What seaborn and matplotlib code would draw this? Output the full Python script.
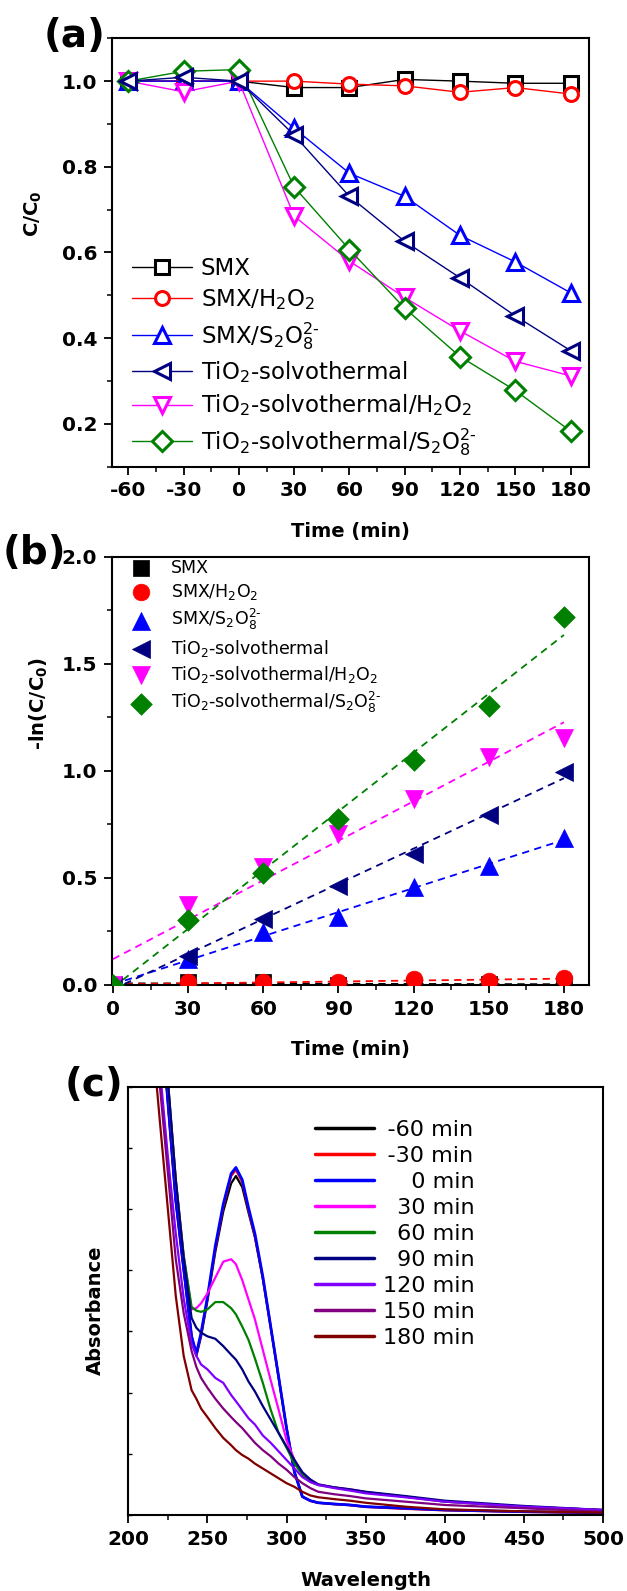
import numpy as np
import matplotlib
matplotlib.use("Agg")
import matplotlib.pyplot as plt
import seaborn as sns
from matplotlib.ticker import MultipleLocator, NullFormatter

# ---------------- panel (a): C/C0 vs time ----------------
time_a = [-60, -30, 0, 30, 60, 90, 120, 150, 180]
a_smx = [1.0, 1.0, 1.0, 0.985, 0.985, 1.004, 1.0, 0.995, 0.995]
a_smx_h2o2 = [1.0, 1.0, 1.0, 1.0, 0.993, 0.989, 0.974, 0.985, 0.970]
a_smx_s2o8 = [1.0, 1.0, 1.0, 0.89, 0.785, 0.731, 0.640, 0.578, 0.506]
a_tio2 = [1.0, 1.009, 1.0, 0.874, 0.731, 0.626, 0.541, 0.452, 0.371]
a_tio2_h2o2 = [1.0, 0.975, 1.0, 0.685, 0.58, 0.495, 0.417, 0.346, 0.312]
a_tio2_s2o8 = [1.0, 1.023, 1.027, 0.753, 0.607, 0.47, 0.357, 0.278, 0.183]

# ---------------- panel (b): -ln(C/C0) vs time ----------------
time_b = [0, 30, 60, 90, 120, 150, 180]
b_smx = [0, 0.015, 0.015, 0.0, 0.0, 0.005, 0.005]
b_smx_h2o2 = [0, 0.012, 0.012, 0.012, 0.028, 0.017, 0.033]
b_smx_s2o8 = [0, 0.12, 0.246, 0.316, 0.456, 0.558, 0.687]
b_tio2 = [0, 0.137, 0.308, 0.464, 0.612, 0.794, 0.994]
b_tio2_h2o2 = [0, 0.374, 0.55, 0.706, 0.869, 1.064, 1.154]
b_tio2_s2o8 = [0, 0.305, 0.522, 0.776, 1.053, 1.305, 1.718]

# ---------------- panel (c): UV-vis spectra ----------------
wavelength = [215, 220, 225, 230, 235, 240, 243, 246, 250, 255, 260, 265, 268, 272, 276,
              280, 285, 290, 295, 300, 305, 310, 315, 320, 330, 340, 350, 375, 400, 450, 500]
abs_m60 = [5.0, 4.19, 3.38, 2.57, 2.01, 1.46, 1.30, 1.46, 1.75, 2.15, 2.48, 2.71, 2.77, 2.68, 2.47,
           2.27, 1.93, 1.53, 1.12, 0.71, 0.35, 0.15, 0.117, 0.10, 0.09, 0.082, 0.068, 0.055, 0.041, 0.027, 0.019]
abs_m30 = [5.0, 4.19, 3.38, 2.57, 2.01, 1.46, 1.31, 1.48, 1.77, 2.18, 2.52, 2.77, 2.82, 2.72, 2.49,
           2.28, 1.94, 1.54, 1.13, 0.71, 0.35, 0.15, 0.115, 0.10, 0.088, 0.08, 0.066, 0.05, 0.038, 0.025, 0.018]
abs_0 = [5.0, 4.19, 3.38, 2.57, 2.01, 1.46, 1.32, 1.49, 1.78, 2.20, 2.54, 2.79, 2.84, 2.74, 2.51,
         2.30, 1.95, 1.54, 1.13, 0.71, 0.35, 0.15, 0.117, 0.10, 0.09, 0.082, 0.068, 0.055, 0.041, 0.027, 0.019]
abs_30 = [5.18, 4.36, 3.55, 2.74, 2.12, 1.68, 1.69, 1.73, 1.81, 1.94, 2.07, 2.09, 2.05, 1.92, 1.76,
          1.60, 1.35, 1.10, 0.86, 0.61, 0.45, 0.34, 0.29, 0.25, 0.226, 0.21, 0.188, 0.15, 0.109, 0.068, 0.041]
abs_60 = [5.18, 4.36, 3.55, 2.74, 2.12, 1.70, 1.67, 1.66, 1.68, 1.74, 1.74, 1.69, 1.64, 1.54, 1.43,
          1.28, 1.08, 0.86, 0.67, 0.55, 0.42, 0.33, 0.27, 0.245, 0.226, 0.204, 0.183, 0.15, 0.109, 0.068, 0.041]
abs_90 = [5.18, 4.36, 3.55, 2.74, 2.10, 1.61, 1.53, 1.49, 1.46, 1.44, 1.38, 1.31, 1.27, 1.19, 1.09,
          1.01, 0.89, 0.78, 0.67, 0.56, 0.45, 0.35, 0.29, 0.25, 0.226, 0.21, 0.19, 0.155, 0.117, 0.074, 0.041]
abs_120 = [4.46, 3.64, 2.93, 2.30, 1.77, 1.40, 1.30, 1.23, 1.19, 1.12, 1.08, 0.98, 0.93, 0.86, 0.79,
           0.74, 0.65, 0.59, 0.52, 0.45, 0.38, 0.31, 0.27, 0.245, 0.22, 0.20, 0.177, 0.145, 0.109, 0.068, 0.041]
abs_150 = [4.21, 3.50, 2.80, 2.09, 1.65, 1.34, 1.21, 1.12, 1.04, 0.95, 0.87, 0.80, 0.76, 0.71, 0.65,
           0.59, 0.53, 0.48, 0.42, 0.37, 0.31, 0.26, 0.22, 0.19, 0.17, 0.155, 0.136, 0.109, 0.082, 0.055, 0.027]
abs_180 = [3.94, 3.21, 2.50, 1.79, 1.30, 1.02, 0.95, 0.87, 0.80, 0.71, 0.63, 0.57, 0.53, 0.49, 0.46,
           0.42, 0.38, 0.34, 0.30, 0.26, 0.23, 0.19, 0.16, 0.145, 0.13, 0.117, 0.10, 0.068, 0.046, 0.03, 0.019]

labels_ab = ["SMX", "SMX/H$_2$O$_2$", r"SMX/S$_2$O$_8^{\text{2-}}$", "TiO$_2$-solvothermal",
             "TiO$_2$-solvothermal/H$_2$O$_2$", r"TiO$_2$-solvothermal/S$_2$O$_8^{\text{2-}}$"]
colors_ab = ["#000000", "#FF0000", "#0000FF", "#000080", "#FF00FF", "#008000"]
markers_ab = ["s", "o", "^", "<", "v", "D"]
labels_c = ["\u2009-60 min", "\u2009-30 min", "\u2007\u20070 min", "\u200730 min", "\u200760 min",
            "\u200790 min", "120 min", "150 min", "180 min"]
colors_c = ["#000000", "#FF0000", "#0000FF", "#FF00FF", "#008000", "#000080", "#8000FF", "#800080", "#800000"]

# ---------------- style ----------------
sns.set_style("ticks")
plt.rcParams.update({
    "font.family": ["DejaVu Sans"],
    "font.weight": "normal",
    "axes.labelweight": "bold",
    "axes.unicode_minus": False,
    "mathtext.default": "regular",
    "axes.linewidth": 1.5,
    "axes.edgecolor": "black",
    "text.color": "black",
    "axes.labelcolor": "black",
    "xtick.color": "black",
    "ytick.color": "black",
})

W, H = 627, 1591
fig = plt.figure(figsize=(W / 100, H / 100), dpi=100)
axA = fig.add_axes([111.7 / W, 1 - 466.7 / H, 477.3 / W, 428.4 / H])
axB = fig.add_axes([111.7 / W, 1 - 985 / H, 477.3 / W, 428.3 / H])
axC = fig.add_axes([128.3 / W, 1 - 1515 / H, 474.7 / W, 428.3 / H])

# ---------------- (a) ----------------
series_a = [a_smx, a_smx_h2o2, a_smx_s2o8, a_tio2, a_tio2_h2o2, a_tio2_s2o8]
msizes_a = [9.5, 10, 11.5, 11.5, 11.5, 10.5]
zord_a = [2, 2.1, 2.2, 2.6, 2.3, 2.4]
for vals, lab, col, mk, ms, z in zip(series_a, labels_ab, colors_ab, markers_ab, msizes_a, zord_a):
    sns.lineplot(x=time_a, y=vals, ax=axA, color=col, lw=1.0, marker=mk, markersize=ms,
                 markerfacecolor="white", markeredgecolor=col, markeredgewidth=2.2,
                 label=lab, zorder=z)
axA.set_xlim(-69, 190)
axA.set_ylim(0.1, 1.1)
axA.xaxis.set_major_locator(MultipleLocator(30))
axA.xaxis.set_minor_locator(MultipleLocator(15))
axA.yaxis.set_major_locator(MultipleLocator(0.2))
axA.yaxis.set_minor_locator(MultipleLocator(0.1))
axA.set_xlabel("Time (min)", fontsize=14, fontweight="bold")
axA.set_ylabel(r"C/C$_\mathbf{0}$", fontsize=14, fontweight="bold")
axA.xaxis.set_label_coords(0.5, -0.128)
axA.yaxis.set_label_coords(-0.142, 0.591)
hA, lA = axA.get_legend_handles_labels()
axA.legend(hA, lA, loc="upper left", bbox_to_anchor=(0.0425, 0.49), frameon=False,
           prop={"size": 16.5, "weight": "normal"}, handlelength=2.6, handletextpad=0.4,
           labelspacing=0.33, borderpad=0, borderaxespad=0)

# ---------------- (b) ----------------
series_b = [b_smx, b_smx_h2o2, b_smx_s2o8, b_tio2, b_tio2_h2o2, b_tio2_s2o8]
msizes_b = [11.5, 12, 13, 13, 13, 11]
for vals, col in zip(series_b, colors_ab):
    sns.regplot(x=np.array(time_b, dtype=float), y=np.array(vals, dtype=float), ax=axB,
                scatter=False, ci=None, truncate=True,
                line_kws=dict(color=col, lw=1.3, ls=(0, (4, 3)), zorder=2))
for vals, lab, col, mk, ms in zip(series_b, labels_ab, colors_ab, markers_ab, msizes_b):
    sns.scatterplot(x=time_b, y=vals, ax=axB, marker=mk, s=ms ** 2, color=col,
                    edgecolor=col, linewidth=0.5, label=lab, zorder=3)
axB.set_xlim(-0.5, 190)
axB.set_ylim(0, 2.0)
axB.xaxis.set_major_locator(MultipleLocator(30))
axB.xaxis.set_minor_locator(MultipleLocator(15))
axB.yaxis.set_major_locator(MultipleLocator(0.5))
axB.yaxis.set_minor_locator(MultipleLocator(0.25))
axB.set_xlabel("Time (min)", fontsize=14, fontweight="bold")
axB.set_ylabel(r"-ln(C/C$_\mathbf{0}$)", fontsize=14, fontweight="bold")
axB.xaxis.set_label_coords(0.5, -0.128)
axB.yaxis.set_label_coords(-0.129, 0.656)
hB, lB = axB.get_legend_handles_labels()
axB.legend(hB, lB, loc="upper left", bbox_to_anchor=(0.024, 0.995), frameon=False,
           prop={"size": 12.5, "weight": "normal"}, handlelength=2.0, handletextpad=0.75,
           labelspacing=0.3, borderpad=0, borderaxespad=0, scatterpoints=1)

# ---------------- (c) ----------------
spectra = [abs_m60, abs_m30, abs_0, abs_30, abs_60, abs_90, abs_120, abs_150, abs_180]
for vals, lab, col in zip(spectra, labels_c, colors_c):
    sns.lineplot(x=wavelength, y=vals, ax=axC, color=col, lw=2.0 if col == "#0000FF" else 1.6,
                 label=lab)
axC.set_xlim(200, 500)
axC.set_ylim(0, 3.5)
axC.xaxis.set_major_locator(MultipleLocator(50))
axC.xaxis.set_minor_locator(MultipleLocator(25))
axC.yaxis.set_major_locator(MultipleLocator(0.5))
axC.yaxis.set_major_formatter(NullFormatter())
axC.set_xlabel("Wavelength", fontsize=14, fontweight="bold")
axC.set_ylabel("Absorbance", fontsize=14, fontweight="bold")
axC.xaxis.set_label_coords(0.5, -0.13)
axC.yaxis.set_label_coords(-0.049, 0.479)
hC, lC = axC.get_legend_handles_labels()
legC = axC.legend(hC, lC, loc="upper left", bbox_to_anchor=(0.393, 0.922), frameon=False,
                  prop={"size": 16, "weight": "normal"}, handlelength=2.65, handletextpad=0.4,
                  labelspacing=0.27, borderpad=0, borderaxespad=0)
for ln in legC.get_lines():
    ln.set_linewidth(2.5)

# ---------------- ticks / spines ----------------
for ax in (axA, axB, axC):
    for sp in ax.spines.values():
        sp.set_visible(True)
        sp.set_linewidth(1.5)
        sp.set_color("black")
    ax.tick_params(which="major", direction="out", length=6, width=1.3, labelsize=14.5,
                   pad=4.5, top=False, right=False, colors="black")
    ax.tick_params(which="minor", direction="out", length=3.5, width=1.1, top=False, right=False)
    ax.grid(False)
    for lbl in ax.get_xticklabels() + ax.get_yticklabels():
        lbl.set_fontweight("bold")
axC.tick_params(axis="y", which="major", direction="in", length=3, width=1.0)

fig.text(75 / W, 1 - 36 / H, "(a)", fontsize=28, fontweight="bold", ha="center", va="center")
fig.text(34 / W, 1 - 553 / H, "(b)", fontsize=28, fontweight="bold", ha="center", va="center")
fig.text(94 / W, 1 - 1085 / H, "(c)", fontsize=28, fontweight="bold", ha="center", va="center")

fig.savefig("out.png", dpi=100)
